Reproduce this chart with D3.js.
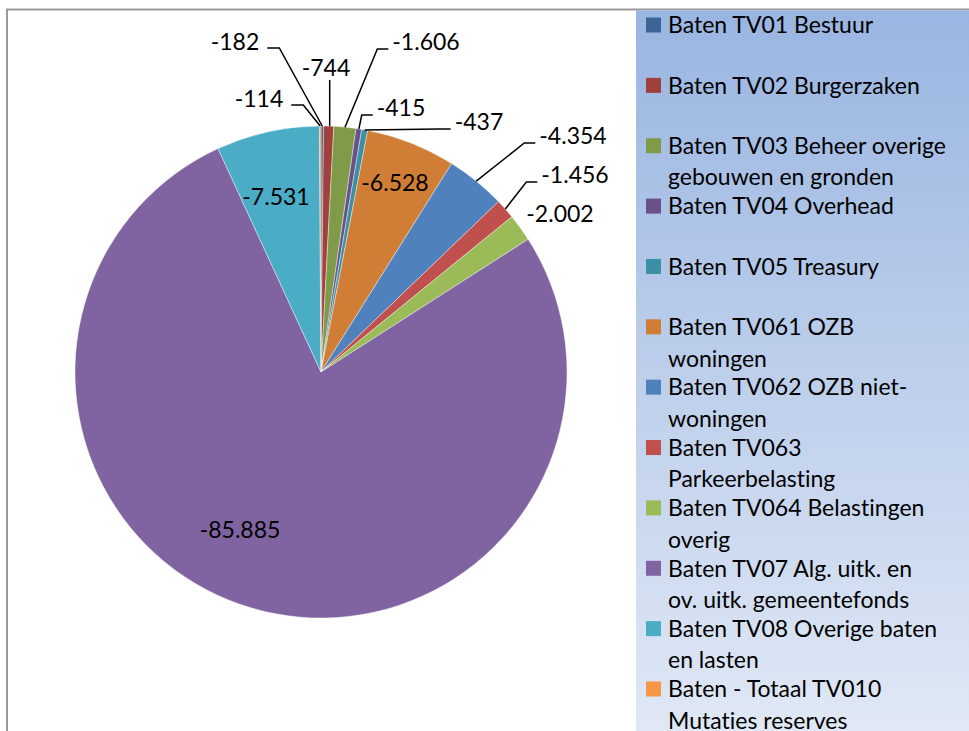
<!DOCTYPE html>
<meta charset="utf-8">
<script src="https://d3js.org/d3.v7.min.js"></script>
<style>
body { margin: 0; background: #fff; }
text { font-family: Lato, "Open Sans", sans-serif; fill: #000; font-variant-ligatures: none; }
</style>
<body>
<script>
// categories ("|" marks where the legend text wraps)
var categories = [
  "Baten TV01 Bestuur",
  "Baten TV02 Burgerzaken",
  "Baten TV03 Beheer overige|gebouwen en gronden",
  "Baten TV04 Overhead",
  "Baten TV05 Treasury",
  "Baten TV061 OZB|woningen",
  "Baten TV062 OZB niet-|woningen",
  "Baten TV063|Parkeerbelasting",
  "Baten TV064 Belastingen|overig",
  "Baten TV07 Alg. uitk. en|ov. uitk. gemeentefonds",
  "Baten TV08 Overige baten|en lasten",
  "Baten - Totaal TV010|Mutaties reserves"
];
var values = [-182, -744, -1606, -415, -437, -6528, -4354, -1456, -2002, -85885, -7531, -114];
var colors = ["#3c6696", "#a0413e", "#7f9b48", "#69528a", "#3b90a6", "#d07d35",
              "#4f81bd", "#c0504d", "#9bbb59", "#8064a2", "#4bacc6", "#f79646"];

// where each data label sits, relative to the pie centre, and how its leader runs
var labelPos = [
  {x: -86, y: -330, leader: "side"},
  {x: 5,   y: -304, leader: "down"},
  {x: 105, y: -330, leader: "side"},
  {x: 80,  y: -264, leader: "side"},
  {x: 158, y: -250, leader: "side"},
  {x: 74,  y: -189, leader: "none"},
  {x: 252, y: -236, leader: "side"},
  {x: 254, y: -197, leader: "side"},
  {x: 239, y: -158, leader: "none"},
  {x: -81, y: 158,  leader: "none"},
  {x: -45, y: -175, leader: "none"},
  {x: -62, y: -273, leader: "side"}
];

var width = 969, height = 731;
var cx = 321, cy = 372, radius = 246;

var fmt = function(v) {
  return d3.format(",")(v).replace(/,/g, ".").replace("\u2212", "-");
};

var svg = d3.select("body").append("svg")
  .attr("width", width)
  .attr("height", height);

var defs = svg.append("defs");
var grad = defs.append("linearGradient")
  .attr("id", "legendGrad")
  .attr("x1", 0).attr("y1", 0).attr("x2", 0).attr("y2", 1);
grad.append("stop").attr("offset", "0%").attr("stop-color", "#99b5e1");
grad.append("stop").attr("offset", "100%").attr("stop-color", "#e0e8f5");

// chart border
svg.append("rect")
  .attr("x", 7).attr("y", 9.5)
  .attr("width", width + 20).attr("height", height + 20)
  .attr("fill", "#fff")
  .attr("stroke", "#9a9a9a")
  .attr("stroke-width", 2);

// legend panel
svg.append("rect")
  .attr("x", 636).attr("y", 10.5)
  .attr("width", width - 636).attr("height", height - 10)
  .attr("fill", "url(#legendGrad)");

var pie = d3.pie()
  .sort(null)
  .value(function(d) { return Math.abs(d); });

var arc = d3.arc().innerRadius(0).outerRadius(radius);

var arcs = pie(values);

var g = svg.append("g")
  .attr("transform", "translate(" + cx + "," + cy + ")");

g.selectAll("path.slice")
  .data(arcs)
  .enter()
  .append("path")
  .attr("class", "slice")
  .attr("d", arc)
  .attr("fill", function(d, i) { return colors[i]; })
  .attr("stroke", "#fff")
  .attr("stroke-width", 0.4);

var fontSize = 23;

var labels = g.selectAll("text.lbl")
  .data(arcs)
  .enter()
  .append("text")
  .attr("class", "lbl")
  .attr("x", function(d, i) { return labelPos[i].x; })
  .attr("y", function(d, i) { return labelPos[i].y; })
  .attr("dy", "0.36em")
  .attr("text-anchor", "middle")
  .style("font-size", fontSize + "px")
  .text(function(d) { return fmt(d.data); });

// leader lines
labels.each(function(d, i) {
  var p = labelPos[i];
  if (p.leader === "none") return;
  var a = (d.startAngle + d.endAngle) / 2;
  var px = Math.sin(a) * radius, py = -Math.cos(a) * radius;
  var w = this.getComputedTextLength();
  var pts;
  if (p.leader === "down") {
    pts = [[px + 1, p.y + 12], [px + 1, py]];
  } else if (p.x + w / 2 < px) {
    var sx = p.x + w / 2 + 8, sy = p.y + 6;
    pts = [[sx, sy], [sx + 12, sy], [px, py]];
  } else {
    var sx2 = p.x - w / 2 - 4, sy2 = p.y + 7;
    pts = [[sx2, sy2], [sx2 - 11, sy2], [px, py]];
  }
  g.append("path")
    .attr("d", d3.line()(pts))
    .attr("fill", "none")
    .attr("stroke", "#000")
    .attr("stroke-width", 1.5);
});

// legend
var legendY = d3.scaleLinear().domain([0, 11]).range([25, 689]);

var leg = svg.selectAll("g.leg")
  .data(categories)
  .enter()
  .append("g")
  .attr("class", "leg")
  .attr("transform", function(d, i) { return "translate(646," + legendY(i) + ")"; });

leg.append("rect")
  .attr("x", 0).attr("y", -7.5)
  .attr("width", 15).attr("height", 15)
  .attr("fill", function(d, i) { return colors[i]; });

leg.append("text")
  .attr("x", 22)
  .attr("y", 0)
  .style("font-size", fontSize + "px")
  .selectAll("tspan")
  .data(function(d) { return d.split("|"); })
  .enter()
  .append("tspan")
  .attr("x", 22)
  .attr("y", function(d, j) { return j * 31.5; })
  .attr("dy", "0.36em")
  .text(function(d) { return d; });
</script>
</body>
</html>
